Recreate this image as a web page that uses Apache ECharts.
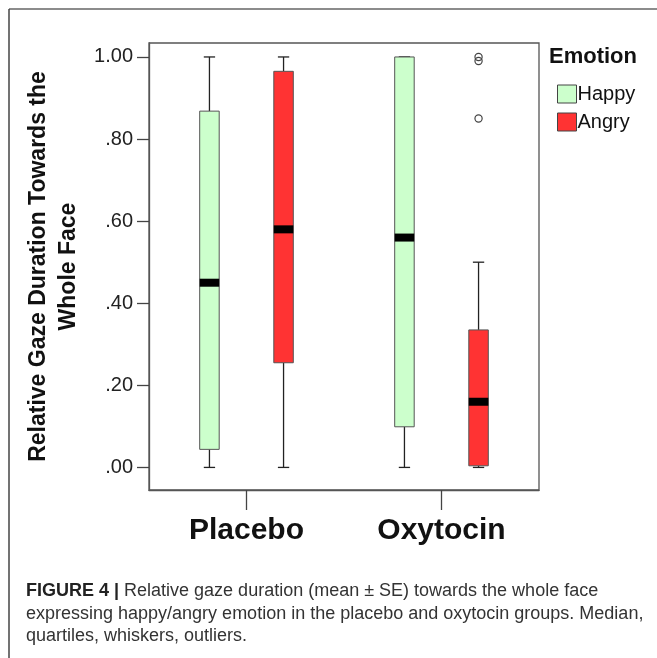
<!DOCTYPE html>
<html>
<head>
<meta charset="utf-8">
<script src="https://cdn.jsdelivr.net/npm/echarts@6/dist/echarts.min.js"></script>
<style>
  html, body { margin: 0; padding: 0; background: #fff; }
  #chart { width: 657px; height: 658px; }
</style>
</head>
<body>
<div id="chart"></div>
<script>
// groups on the x axis
var groups = ['Placebo', 'Oxytocin'];
// y tick values
var yTicks = [0, 0.2, 0.4, 0.6, 0.8, 1.0];

// [groupIndex, min, Q1, median, Q3, max]
var happyStats = [
    [0, 0.00, 0.044, 0.45, 0.868, 1.00],
    [1, 0.00, 0.099, 0.56, 1.00, 1.00]
];
var angryStats = [
    [0, 0.00, 0.255, 0.58, 0.965, 1.00],
    [1, 0.00, 0.004, 0.16, 0.335, 0.50]
];
// [groupIndex, value]
var angryOutliers = [
    [1, 1.00],
    [1, 0.99],
    [1, 0.85]
];

var FONT = 'Liberation Sans, Arial, sans-serif';

// draws box, whiskers and thick median for one emotion, shifted inside the band
function boxRenderer(shift) {
    return function (params, api) {
        var band = api.size([1, 0])[0];
        var cat = api.value(0);
        var x = api.coord([cat, 0])[0] + shift * band;
        var w = band * 0.1;
        var cap = w * 0.58;
        var yMin = api.coord([cat, api.value(1)])[1];
        var yQ1 = api.coord([cat, api.value(2)])[1];
        var yMed = api.coord([cat, api.value(3)])[1];
        var yQ3 = api.coord([cat, api.value(4)])[1];
        var yMax = api.coord([cat, api.value(5)])[1];
        var ln = { stroke: '#222', lineWidth: 1.3 };
        return {
            type: 'group',
            children: [
                { type: 'line', shape: { x1: x, y1: yMax, x2: x, y2: yQ3 }, style: ln },
                { type: 'line', shape: { x1: x, y1: yQ1, x2: x, y2: yMin }, style: ln },
                { type: 'line', shape: { x1: x - cap / 2, y1: yMax, x2: x + cap / 2, y2: yMax }, style: ln },
                { type: 'line', shape: { x1: x - cap / 2, y1: yMin, x2: x + cap / 2, y2: yMin }, style: ln },
                {
                    type: 'rect',
                    shape: { x: x - w / 2, y: yQ3, width: w, height: yQ1 - yQ3 },
                    style: { fill: api.visual('color'), stroke: '#555', lineWidth: 1 }
                },
                {
                    type: 'rect',
                    shape: { x: x - w / 2, y: yMed - 4, width: w, height: 8 },
                    style: { fill: '#000' }
                }
            ]
        };
    };
}

function outlierRenderer(shift) {
    return function (params, api) {
        var band = api.size([1, 0])[0];
        var p = api.coord([api.value(0), api.value(1)]);
        return {
            type: 'circle',
            shape: { cx: p[0] + shift * band, cy: p[1], r: 3.6 },
            style: { fill: 'none', stroke: '#444', lineWidth: 1.2 }
        };
    };
}

var chart = echarts.init(document.getElementById('chart'));
chart.setOption({
    animation: false,
    backgroundColor: '#fff',
    grid: {
        left: 149, right: 118, top: 43, bottom: 168,
        show: true, borderColor: '#555', borderWidth: 1.3
    },
    legend: {
        orient: 'vertical',
        left: 552, top: 79,
        icon: 'rect',
        itemWidth: 19, itemHeight: 18, itemGap: 8,
        itemStyle: { borderColor: '#444', borderWidth: 1 },
        textStyle: { fontFamily: FONT, fontSize: 20, color: '#111', padding: [0, 0, 0, -4] },
        data: ['Happy', 'Angry']
    },
    xAxis: {
        type: 'category',
        data: groups,
        axisLine: { onZero: false, lineStyle: { color: '#555', width: 1.3 } },
        axisTick: { show: true, alignWithLabel: true, length: 20, lineStyle: { color: '#444', width: 1.3 } },
        axisLabel: { margin: 26, fontFamily: FONT, fontSize: 30, fontWeight: 'bold', color: '#111' },
        splitLine: { show: false }
    },
    yAxis: {
        type: 'value',
        min: -0.055,
        max: 1.034,
        name: 'Relative Gaze Duration Towards the\nWhole Face',
        nameLocation: 'middle',
        nameRotate: 90,
        nameGap: 64,
        nameTextStyle: { fontFamily: FONT, fontSize: 23, fontWeight: 'bold', color: '#111', lineHeight: 30, align: 'center' },
        axisLine: { show: true, lineStyle: { color: '#555', width: 1.3 } },
        axisTick: { show: true, length: 12, customValues: yTicks, lineStyle: { color: '#444', width: 1.3 } },
        axisLabel: {
            margin: 16,
            fontFamily: FONT, fontSize: 20, color: '#222',
            customValues: yTicks,
            formatter: function (v) {
                return v >= 1 ? v.toFixed(2) : v.toFixed(2).replace(/^0/, '');
            }
        },
        splitLine: { show: false }
    },
    graphic: [
        { type: 'line', shape: { x1: 9, y1: 9, x2: 657, y2: 9 }, style: { stroke: '#666', lineWidth: 1.5 } },
        { type: 'line', shape: { x1: 9, y1: 9, x2: 9, y2: 658 }, style: { stroke: '#444', lineWidth: 1.5 } },
        {
            type: 'text', left: 549, top: 46,
            style: { text: 'Emotion', font: 'bold 22px ' + FONT, fill: '#111' }
        },
        {
            type: 'text', left: 26, top: 580,
            style: {
                text: '{b|FIGURE 4 |} Relative gaze duration (mean \u00b1 SE) towards the whole face\n' +
                      'expressing happy/angry emotion in the placebo and oxytocin groups. Median,\n' +
                      'quartiles, whiskers, outliers.',
                font: '18px ' + FONT,
                fill: '#333',
                lineHeight: 22.5,
                rich: { b: { fontWeight: 'bold', fontSize: 18, fontFamily: FONT, fill: '#222', lineHeight: 22.5 } }
            }
        }
    ],
    series: [
        {
            name: 'Happy', type: 'custom',
            itemStyle: { color: '#ccffcc' },
            encode: { x: 0, y: [1, 2, 3, 4, 5] },
            renderItem: boxRenderer(-0.19),
            data: happyStats
        },
        {
            name: 'Angry', type: 'custom',
            itemStyle: { color: '#ff3333' },
            encode: { x: 0, y: [1, 2, 3, 4, 5] },
            renderItem: boxRenderer(0.19),
            data: angryStats
        },
        {
            name: 'Angry outliers', type: 'custom',
            encode: { x: 0, y: 1 },
            renderItem: outlierRenderer(0.19),
            data: angryOutliers
        }
    ]
});
</script>
</body>
</html>
